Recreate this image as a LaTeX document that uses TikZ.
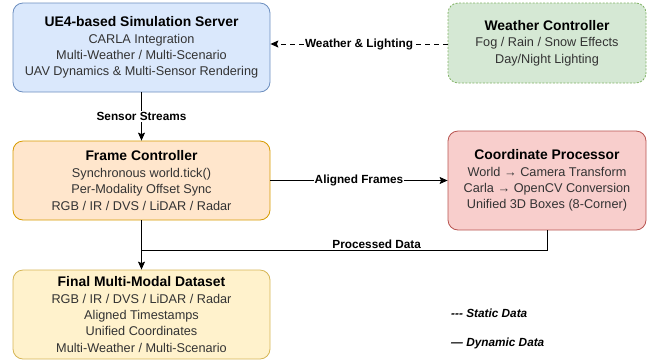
\documentclass[tikz,border=0pt]{standalone}
\usepackage{fontspec}
\setmainfont{Liberation Sans}
\usetikzlibrary{arrows.meta, positioning}
\definecolor{serverfill}{HTML}{DAE8FC}
\definecolor{serverline}{HTML}{6C8EBF}
\definecolor{weatherfill}{HTML}{D5E8D4}
\definecolor{weatherline}{HTML}{82B366}
\definecolor{framefill}{HTML}{FFE6CC}
\definecolor{frameline}{HTML}{D79B00}
\definecolor{coordfill}{HTML}{F8CECC}
\definecolor{coordline}{HTML}{B85450}
\definecolor{finalfill}{HTML}{FFF2CC}
\definecolor{finalline}{HTML}{D6B656}
\newcommand{\boxhead}[1]{{\color{black}\bfseries\fontsize{13.9}{16.5}\selectfont #1}}

\tikzset{
  box/.style={draw, rounded corners=10pt, align=center, inner sep=0pt,
    line width=0.8pt, text=black!80, font=\fontsize{12.7}{16.4}\selectfont},
  flow/.style={-{Stealth[length=8pt, width=7pt, inset=1.5pt]}, line width=1pt},
  lbl/.style={fill=white, inner sep=1pt, font=\fontsize{11.8}{13}\selectfont\bfseries},
  legend/.style={anchor=west, inner sep=0pt, font=\fontsize{11.8}{13}\selectfont\bfseries\itshape}
}

\begin{document}
\begin{tikzpicture}[x=1pt, y=-1pt]
  \useasboundingbox (0,0) rectangle (656,360);

  \node[box, fill=serverfill, draw=serverline, minimum width=257pt, minimum height=89pt] (server) at (141.5,47.5) {
    \boxhead{UE4-based Simulation Server}\\
    CARLA Integration\\
    Multi-Weather / Multi-Scenario\\
    UAV Dynamics \& Multi-Sensor Rendering
  };
  \node[box, fill=weatherfill, draw=weatherline, dash pattern=on 2pt off 1.5pt, minimum width=198pt, minimum height=80pt] (weather) at (547,43) {
    \boxhead{Weather Controller}\\
    Fog / Rain / Snow Effects\\
    Day/Night Lighting
  };
  \node[box, fill=framefill, draw=frameline, minimum width=257pt, minimum height=79pt] (frame) at (141.5,180.5) {
    \boxhead{Frame Controller}\\
    Synchronous world.tick()\\
    Per-Modality Offset Sync\\
    RGB / IR / DVS / LiDAR / Radar
  };
  \node[box, fill=coordfill, draw=coordline, minimum width=198pt, minimum height=99pt] (coord) at (547,180.5) {
    \boxhead{Coordinate Processor}\\
    World → Camera Transform\\
    Carla → OpenCV Conversion\\
    Unified 3D Boxes (8-Corner)
  };
  \node[box, fill=finalfill, draw=finalline, minimum width=257pt, minimum height=89pt] (final) at (141.5,314.5) {
    \boxhead{Final Multi-Modal Dataset}\\
    RGB / IR / DVS / LiDAR / Radar\\
    Aligned Timestamps\\
    Unified Coordinates\\
    Multi-Weather / Multi-Scenario
  };

  \coordinate (join) at (141.5,250);

  \draw[flow] (server) -- node[lbl] {Sensor Streams} (frame);
  \draw[flow] (frame) -- node[lbl] {Aligned Frames} (coord);
  \draw[flow, dash pattern=on 5pt off 4pt] (weather.west |- 0,44) -- node[lbl] {Weather \& Lighting} (server.east |- 0,44);
  \draw[flow] (frame) -- (final);
  \draw[line width=1pt] (coord.south) |- node[pos=0.71, above, inner sep=1pt, font=\fontsize{11.8}{13}\selectfont\bfseries] {Processed Data} (join);

  \node[legend] (static) at (451,313) {-{}-{}- Static Data};
  \node[legend] (dynamic) at (451,343) {— Dynamic Data};
\end{tikzpicture}
\end{document}
